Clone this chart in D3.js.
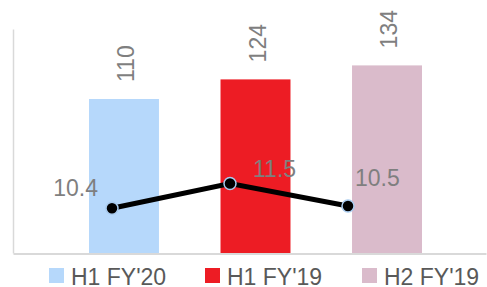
<!DOCTYPE html>
<html>
<head>
<meta charset="utf-8">
<script src="https://cdn.jsdelivr.net/npm/d3@7"></script>
<style>
  body { margin: 0; background: #fff; }
  svg { display: block; font-family: "Liberation Sans", Arial, sans-serif; }
</style>
</head>
<body>
<script>
// data
let series = ["H1 FY'20", "H1 FY'19", "H2 FY'19"]
let barValues = [110, 124, 134]
let lineValues = [10.4, 11.5, 10.5]
let colors = ["#b6d8fb", "#ed1c24", "#dabbcb"]

let width = 487
let height = 287

let svg = d3.select("body")
    .append("svg")
    .attr("width", width)
    .attr("height", height)

let plot = {left: 13, right: 486, top: 29, bottom: 253}

// bar scales
let xBar = d3.scaleBand()
    .domain(series)
    .range([89, 422])
    .paddingInner(0.468)
    .paddingOuter(0)

let yBar = d3.scaleLinear()
    .domain([0, 160])
    .range([plot.bottom, plot.top])

// line scales (secondary)
let xLine = d3.scalePoint()
    .domain(series)
    .range([112, 348])

let yLine = d3.scaleLinear()
    .domain([8.4, 18.4])
    .range([plot.bottom, plot.top])

// bars
svg.selectAll(".bar")
    .data(barValues)
    .enter()
    .append("rect")
    .attr("class", "bar")
    .attr("x", (d, i) => xBar(series[i]))
    .attr("y", d => yBar(d))
    .attr("width", xBar.bandwidth())
    .attr("height", d => plot.bottom - yBar(d))
    .attr("fill", (d, i) => colors[i])

// axes lines
let axisColor = "#d9d9d9"
let yAxis = d3.axisLeft(yBar).tickValues([]).tickSizeOuter(0)
svg.append("g")
    .attr("transform", "translate(" + plot.left + ",0)")
    .call(yAxis)
    .call(g => g.select(".domain").attr("stroke", axisColor).attr("stroke-width", 1.5))

let xAxis = d3.axisBottom(d3.scaleLinear().range([plot.left, plot.right])).tickValues([]).tickSizeOuter(0)
svg.append("g")
    .attr("transform", "translate(0," + (plot.bottom + 0.5) + ")")
    .call(xAxis)
    .call(g => g.select(".domain").attr("stroke", axisColor).attr("stroke-width", 2))

// bar labels (rotated)
svg.selectAll(".barLabel")
    .data(barValues)
    .enter()
    .append("text")
    .attr("class", "barLabel")
    .attr("transform", (d, i) => "translate(" + (xBar(series[i]) + xBar.bandwidth() / 2 + 2) + "," + (yBar(d) - 17) + ") rotate(-90)")
    .attr("dy", "0.35em")
    .attr("fill", "#7f7f7f")
    .attr("font-size", 23)
    .text(d => d)

// line
let line = d3.line()
    .x((d, i) => xLine(series[i]))
    .y(d => yLine(d))

svg.append("path")
    .datum(lineValues)
    .attr("d", line)
    .attr("fill", "none")
    .attr("stroke", "#000")
    .attr("stroke-width", 5)

svg.selectAll(".dot")
    .data(lineValues)
    .enter()
    .append("circle")
    .attr("class", "dot")
    .attr("cx", (d, i) => xLine(series[i]))
    .attr("cy", d => yLine(d))
    .attr("r", 6)
    .attr("fill", "#000")
    .attr("stroke", "#a9cbee")
    .attr("stroke-width", 1.5)

// line labels, manually placed like in the source
let labelOffsets = [[-14, -12, "end"], [23, -7, "start"], [7, -20, "start"]]
svg.selectAll(".lineLabel")
    .data(lineValues)
    .enter()
    .append("text")
    .attr("class", "lineLabel")
    .attr("x", (d, i) => xLine(series[i]) + labelOffsets[i][0])
    .attr("y", d => yLine(d))
    .attr("dy", (d, i) => labelOffsets[i][1])
    .attr("text-anchor", (d, i) => labelOffsets[i][2])
    .attr("fill", "#7f7f7f")
    .attr("font-size", 23)
    .text(d => d.toFixed(1))

// legend
let legendX = [49, 205, 362]
let legend = svg.selectAll(".legend")
    .data(series)
    .enter()
    .append("g")
    .attr("class", "legend")
    .attr("transform", (d, i) => "translate(" + legendX[i] + ",268)")

legend.append("rect")
    .attr("width", 15)
    .attr("height", 15)
    .attr("fill", (d, i) => colors[i])

legend.append("text")
    .attr("x", 22)
    .attr("y", 17)
    .attr("fill", "#595959")
    .attr("font-size", 23)
    .text(d => d)
</script>
</body>
</html>
